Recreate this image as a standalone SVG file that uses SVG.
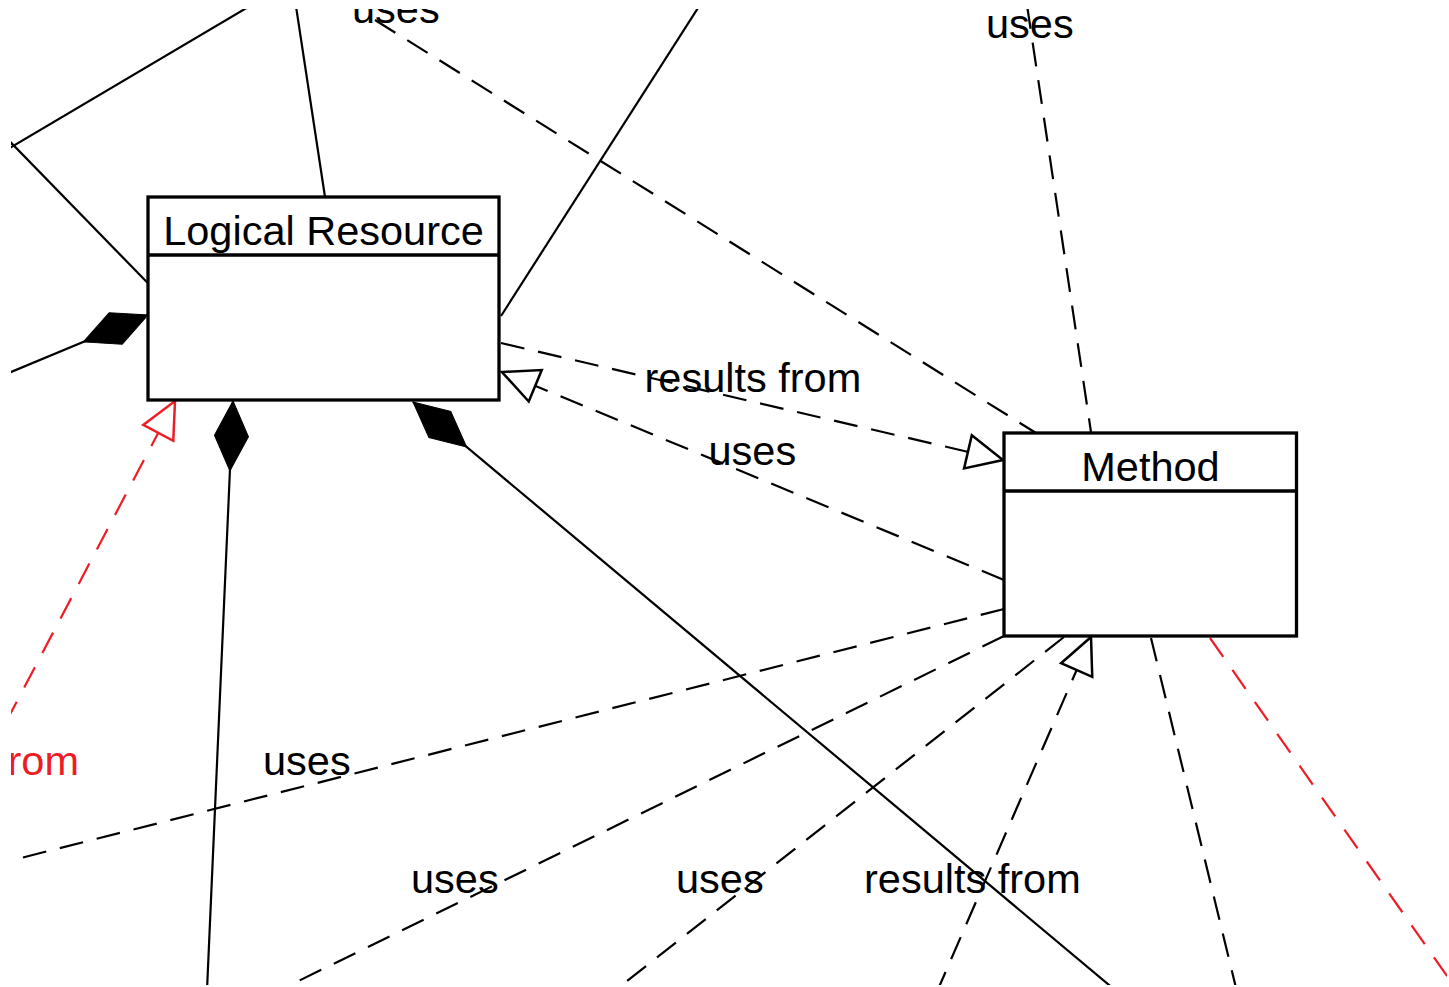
<svg xmlns="http://www.w3.org/2000/svg" width="1449" height="987" viewBox="0 0 1449 987">
<style>
.edge{fill:none;stroke:#000;stroke-width:2.2}
.dash{stroke-dasharray:24 14}
.red{fill:none;stroke:#ee1c25;stroke-width:2.2;stroke-dasharray:23 16}
.lbl{font-family:"Liberation Sans",Arial,sans-serif;font-size:41.5px;fill:#000}
.rlbl{font-family:"Liberation Sans",Arial,sans-serif;font-size:41.5px;fill:#ee1c25}
.box{fill:#fff;stroke:#000;stroke-width:3.3}
.div{stroke:#000;stroke-width:3.3}
.title{font-family:"Liberation Sans",Arial,sans-serif;font-size:41.5px;fill:#000;text-anchor:middle}
</style>
<defs>
<clipPath id="view"><rect x="11" y="9" width="1436" height="976"/></clipPath>
<marker id="hollow" viewBox="0 0 36 34" refX="36" refY="17" markerWidth="36" markerHeight="34" markerUnits="userSpaceOnUse" orient="auto" overflow="visible">
<path d="M0,0 L36,17 L0,34 Z" fill="#fff" stroke="#000" stroke-width="2.5" stroke-dasharray="none"/>
</marker>
<marker id="hollowRed" viewBox="0 0 36 34" refX="36" refY="17" markerWidth="36" markerHeight="34" markerUnits="userSpaceOnUse" orient="auto" overflow="visible">
<path d="M0,0 L36,17 L0,34 Z" fill="#fff" stroke="#ee1c25" stroke-width="2.5" stroke-dasharray="none"/>
</marker>
<marker id="diamond" viewBox="0 0 70 34" refX="0" refY="17" markerWidth="70" markerHeight="34" markerUnits="userSpaceOnUse" orient="auto" overflow="visible">
<path d="M0,17 L35,0 L70,17 L35,34 Z" fill="#000" stroke="#000" stroke-width="1" stroke-dasharray="none"/>
</marker>
</defs>
<rect width="1449" height="987" fill="#fff"/>
<g id="connectors" clip-path="url(#view)">
<line class="edge" x1="252" y1="4.75" x2="5" y2="150.7"/>
<line class="edge" x1="148" y1="283.3" x2="5" y2="136.4"/>
<line class="edge" x1="295.5" y1="3" x2="325" y2="197"/>
<line class="edge" x1="701.8" y1="2" x2="501" y2="316"/>
<line class="edge" x1="148" y1="315" x2="5" y2="374.5" marker-start="url(#diamond)"/>
<line class="edge" x1="233" y1="401" x2="207" y2="990" marker-start="url(#diamond)"/>
<line class="edge" x1="413" y1="402" x2="1115" y2="990" marker-start="url(#diamond)"/>
<line class="edge dash" x1="375" y1="20" x2="1036" y2="433"/>
<line class="edge dash" x1="1027" y1="5" x2="1091" y2="432"/>
<line class="edge dash" x1="501" y1="343" x2="1003" y2="460" marker-end="url(#hollow)"/>
<line class="edge dash" x1="1004" y1="580" x2="502" y2="372" marker-end="url(#hollow)"/>
<line class="edge dash" x1="1004" y1="609" x2="5" y2="862"/>
<line class="edge dash" x1="1004" y1="636" x2="280" y2="990"/>
<line class="edge dash" x1="1064" y1="637" x2="617" y2="989"/>
<line class="edge dash" x1="936" y1="994" x2="1091" y2="637" marker-end="url(#hollow)"/>
<line class="edge dash" x1="1151" y1="638" x2="1237" y2="992"/>
<line class="red" x1="1210" y1="638" x2="1452" y2="983"/>
<line class="red" x1="6" y1="722" x2="175" y2="401" marker-end="url(#hollowRed)"/>
</g>
<g id="labels" clip-path="url(#view)">
<text class="lbl" x="352" y="23">uses</text>
<text class="lbl" x="986" y="38">uses</text>
<text class="lbl" x="644.5" y="391.5">results from</text>
<text class="lbl" x="708.5" y="465">uses</text>
<text class="rlbl" x="79" y="775" text-anchor="end">results from</text>
<text class="lbl" x="263" y="775">uses</text>
<text class="lbl" x="411" y="893">uses</text>
<text class="lbl" x="676" y="893">uses</text>
<text class="lbl" x="864" y="893">results from</text>
</g>
<g id="node-logical-resource">
<rect class="box" x="148" y="197" width="351" height="203"/>
<line class="div" x1="148" y1="255" x2="499" y2="255"/>
<text class="title" x="323.5" y="245">Logical Resource</text>
</g>
<g id="node-method">
<rect class="box" x="1004" y="433" width="292.5" height="203"/>
<line class="div" x1="1004" y1="491" x2="1296.5" y2="491"/>
<text class="title" x="1150.5" y="481">Method</text>
</g>
</svg>
